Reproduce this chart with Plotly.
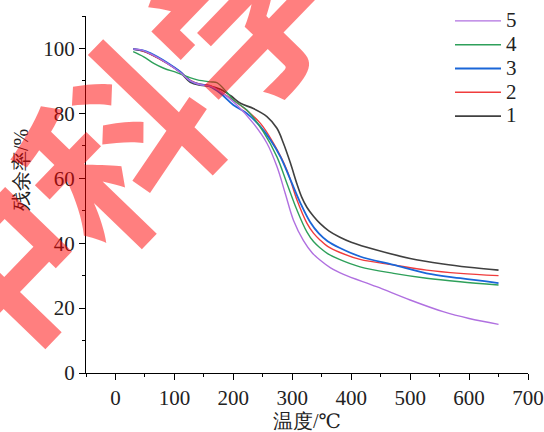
import plotly.graph_objects as go

# ---- data (temperature in °C, residue in %) ----
t1 = [30, 45, 60, 88, 110, 127, 144, 160, 178, 195, 212, 234, 257, 274, 285, 297, 308, 316, 325, 336, 347, 362, 380, 400, 443, 500, 556, 600, 650]
y1 = [99.8, 99.3, 98.2, 95.4, 92.6, 89.6, 88.7, 88.4, 87.4, 85.5, 83.1, 81.5, 79.0, 75.4, 70.8, 64.6, 58.2, 54.2, 51.0, 48.3, 46.1, 43.8, 41.9, 40.3, 37.9, 35.3, 33.6, 32.6, 31.7]

t2 = [30, 45, 60, 88, 110, 127, 144, 160, 178, 212, 246, 268, 291, 308, 325, 336, 347, 360, 380, 415, 472, 528, 585, 650]
y2 = [99.8, 99.3, 98.2, 95.4, 92.8, 90.2, 89.0, 88.6, 86.7, 82.5, 76.9, 70.8, 62.5, 53.3, 46.1, 43.1, 41.0, 39.0, 37.2, 35.0, 33.3, 31.7, 30.7, 30.0]

t3 = [30, 45, 60, 88, 110, 127, 144, 160, 178, 200, 223, 246, 263, 280, 297, 314, 330, 345, 360, 380, 415, 472, 528, 585, 650]
y3 = [99.8, 99.5, 98.5, 95.6, 92.8, 90.0, 88.9, 88.3, 86.2, 82.6, 80.0, 75.9, 71.8, 66.6, 59.5, 52.3, 46.6, 43.0, 40.6, 38.6, 35.9, 33.3, 30.7, 29.2, 27.7]

t4 = [30, 48, 65, 82, 105, 122, 139, 161, 172, 189, 200, 223, 251, 274, 291, 308, 325, 336, 347, 360, 380, 415, 472, 528, 585, 650]
y4 = [99.0, 97.4, 95.4, 93.9, 92.5, 91.3, 90.3, 89.7, 89.5, 86.5, 84.1, 81.0, 74.3, 66.6, 58.4, 50.2, 43.4, 40.5, 38.6, 36.8, 35.0, 32.7, 30.7, 29.2, 28.1, 27.1]

t5 = [30, 45, 60, 88, 110, 127, 144, 160, 178, 206, 234, 257, 274, 288, 302, 319, 334, 347, 365, 387, 443, 500, 556, 600, 650]
y5 = [99.8, 99.5, 98.3, 95.4, 92.6, 90.0, 88.8, 88.4, 86.7, 82.6, 76.9, 70.8, 63.6, 55.4, 47.1, 40.8, 37.0, 34.8, 32.4, 30.4, 26.6, 22.5, 18.9, 16.8, 15.0]

series_names = ["1", "2", "3", "4", "5"]
x_ticks = [0, 100, 200, 300, 400, 500, 600, 700]
y_ticks = [0, 20, 40, 60, 80, 100]

colors = ["#404040", "#f03c3c", "#1a66d8", "#2ea05a", "#b070e0"]
widths = [1.6, 1.4, 1.8, 1.4, 1.4]

fig = go.Figure()
for t, y, name, c, w in zip([t1, t2, t3, t4, t5], [y1, y2, y3, y4, y5], series_names, colors, widths):
    fig.add_trace(go.Scatter(x=t, y=y, mode="lines",
                             name="<span style='font-size:21px'>" + name + "</span>",
                             line=dict(color=c, width=w, shape="spline", smoothing=1)))

serif = "'Times New Roman', 'Liberation Serif', 'DejaVu Serif', serif"
axis_common = dict(showline=True, linecolor="black", linewidth=1.3, ticks="outside",
                   ticklen=6, tickwidth=1.3, tickcolor="black", showgrid=False, zeroline=False,
                   tickfont=dict(family=serif, size=21, color="#222"))

fig.update_layout(
    width=544, height=432,
    font=dict(family=serif),
    margin=dict(l=86, r=16, t=16, b=59, autoexpand=False),
    paper_bgcolor="white", plot_bgcolor="white",
    xaxis=dict(range=[-50, 700], tickvals=x_ticks,
               minor=dict(dtick=50, ticklen=3, tickcolor="black", tickwidth=1.3, ticks="outside"),
               **axis_common),
    yaxis=dict(range=[0, 110], tickvals=y_ticks,
               minor=dict(dtick=10, ticklen=3, tickcolor="black", tickwidth=1.3, ticks="outside"),
               **axis_common),
    legend=dict(x=(450 - 86) / 442, y=(373 - 4) / 357,
                xanchor="left", yanchor="top", traceorder="reversed",
                bgcolor="rgba(0,0,0,0)", font=dict(family=serif, size=16, color="#222"),
                tracegroupgap=0, itemwidth=46),
    showlegend=True,
)

# axis titles
fig.add_annotation(text="温度/℃", xref="paper", yref="paper", x=(307 - 86) / 442, y=(373 - 421) / 357,
                   showarrow=False, font=dict(family=serif, size=20, color="#222"),
                   xanchor="center", yanchor="middle")
fig.add_annotation(text="残余率/%", xref="paper", yref="paper", x=(21 - 86) / 442, y=(373 - 170) / 357,
                   showarrow=False, textangle=-90, font=dict(family=serif, size=20, color="#222"),
                   xanchor="center", yanchor="middle")

# watermark
fig.add_annotation(text="<b>中科学</b>", xref="paper", yref="paper",
                   x=(112 - 86) / 442, y=(373 - 140) / 357, showarrow=False, textangle=-46,
                   font=dict(family="Noto Sans CJK SC", size=185, color="rgba(255,0,0,0.5)"),
                   xanchor="center", yanchor="middle")

fig.write_html("out.html")
